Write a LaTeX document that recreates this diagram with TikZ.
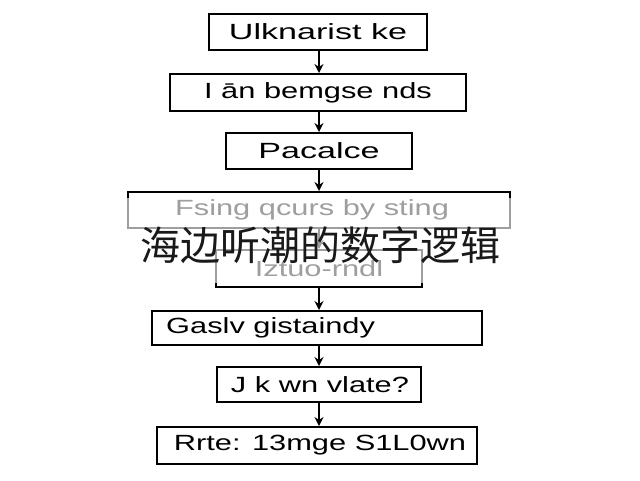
\documentclass[tikz,border=0pt]{standalone}
\usepackage{fontspec}
\setmainfont{Liberation Sans}
\newfontfamily\widesans[FakeStretch=1.4]{Liberation Sans}
\newfontfamily\widersans[FakeStretch=1.55]{Liberation Sans}
\newfontfamily\cjk{Noto Sans CJK SC}
\usetikzlibrary{arrows.meta}
\begin{document}
\begin{tikzpicture}[x=1pt,y=-1pt,
  box/.style={draw=black,line width=2pt,rectangle,inner sep=0pt,font=\widesans\fontsize{22}{24}\selectfont},
  lbl/.style={inner sep=0pt,font=\widesans\fontsize{22}{24}\selectfont},
  arr/.style={line width=2pt,-{Stealth[length=9pt,width=9pt]}}]
\useasboundingbox[fill=white] (0,0) rectangle (640,480);
\node[box,minimum width=218pt,minimum height=36pt,font=\widersans\fontsize{22}{24}\selectfont] (b1) at (318,32) {Ulknarist ke};
\node[box,minimum width=296pt,minimum height=37pt] (b2) at (318,92.5) {I ān bemgse nds};
\node[box,minimum width=186pt,minimum height=36pt,font=\widersans\fontsize{22}{24}\selectfont] (b3) at (319,151) {Pacalce};
\node[box,minimum width=382pt,minimum height=36pt] (b4) at (319,210) {};
\node[lbl] (t4) at (312,210) {Fsing qcurs by sting};
\node[box,minimum width=206pt,minimum height=37pt] (b5) at (319,268.5) {Iztuo-rndl};
\node[box,minimum width=330pt,minimum height=34pt] (b6) at (317,328) {};
\node[lbl,anchor=west] (t6) at (166,328) {Gaslv gistaindy};
\node[box,minimum width=204pt,minimum height=35pt] (b7) at (319,384.5) {};
\node[lbl] (t7) at (320,384.5) {J k wn vlate?};
\node[box,minimum width=320pt,minimum height=37pt] (b8) at (317,445.5) {};
\node[lbl] (t8) at (320,445.5) {Rrte: 13mge S1L0wn};
\draw[arr] (b1.south -| 319,0) -- (b2.north -| 319,0);
\draw[arr] (b2.south -| 319,0) -- (b3.north -| 319,0);
\draw[arr] (b3.south -| 319,0) -- (b4.north -| 319,0);
\draw[arr] (b4.south -| 319,0) -- (b5.north -| 319,0);
\draw[arr] (b5.south -| 319,0) -- (b6.north -| 319,0);
\draw[arr] (b6.south -| 319,0) -- (b7.north -| 319,0);
\draw[arr] (b7.south -| 319,0) -- (b8.north -| 319,0);
\fill[white,opacity=0.62] (0,198) rectangle (640,283);
\node[inner sep=0pt,text=black!90,font=\cjk\fontsize{40}{44}\selectfont] (cap) at (320,245) {海边听潮的数字逻辑};
\end{tikzpicture}
\end{document}
